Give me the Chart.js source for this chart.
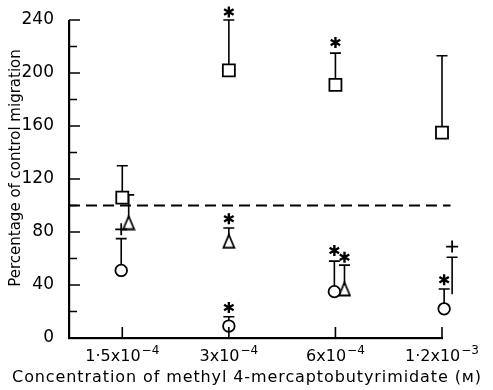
<!DOCTYPE html>
<html>
<head>
<meta charset="utf-8">
<script src="https://cdn.jsdelivr.net/npm/chart.js@4.4.0/dist/chart.umd.min.js"></script>
<style>
  html, body { margin: 0; padding: 0; background: #fff; }
  #wrap { width: 493px; height: 390px; }
</style>
</head>
<body>
<div id="wrap"><canvas id="c" width="493" height="390"></canvas></div>
<script>
// concentrations (categories), mantissa + exponent
const concBase = ['1·5x10', '3x10', '6x10', '1·2x10'];
const concExp = ['−4', '−4', '−4', '−3'];

// % of control migration, mean and top of error bar
const squareVals  = [106, 202, 191, 155];
const squareUpper = [130, 240, 215, 213];
const triVals     = [87, 73, 37, 33];
const triUpper    = [108, 83, 55, 61];
const circleVals  = [51, 9, 35, 22];
const circleUpper = [75, 16, 58, 37];

const controlLevel = 100;
const yTicks = [0, 40, 80, 120, 160, 200, 240];
const yMinor = [20, 60, 100, 140, 180, 220];

// significance marks: which series, category, height, symbol
const markSeries = ['circle', 'square', 'triangle', 'circle', 'square', 'circle', 'triangle', 'circle', 'triangle'];
const markCat    = [0, 1, 1, 1, 2, 2, 2, 3, 3];
const markY      = [82, 246, 90, 23, 223, 66, 61, 44, 69];
const markSym    = ['+', '*', '*', '*', '*', '*', '*', '*', '+'];

// small sideways shift of overlapping symbols (category units)
const dodge = {
  square:   [0, 0, 0, 0],
  circle:   [-0.01, 0, -0.01, 0.02],
  triangle: [0.06, 0, 0.085, 0.095]
};

const FONT = '"DejaVu Sans", sans-serif';

// taller-than-wide open triangle like the original
function triangleImg(){
  const c = document.createElement('canvas');
  c.width = 14; c.height = 16;
  const g = c.getContext('2d');
  g.fillStyle = '#fff';
  g.strokeStyle = '#000';
  g.lineWidth = 1.8;
  g.beginPath();
  g.moveTo(7, 1.5);
  g.lineTo(12.5, 14.5);
  g.lineTo(1.5, 14.5);
  g.closePath();
  g.fill();
  g.stroke();
  return c;
}

const pts = (vals, key) => vals.map((v, i) => ({ x: i + dodge[key][i], y: v }));

const series = [
  { key: 'square', vals: squareVals, upper: squareUpper },
  { key: 'circle', vals: circleVals, upper: circleUpper },
  { key: 'triangle', vals: triVals, upper: triUpper }
];

const decorations = {
  id: 'decorations',
  beforeDatasetsDraw(chart){
    const { ctx, scales: { x, y } } = chart;
    ctx.save();
    ctx.strokeStyle = '#000';
    // control (100%) dashed line
    ctx.lineWidth = 2;
    ctx.setLineDash([11, 6]);
    ctx.beginPath();
    ctx.moveTo(x.getPixelForValue(-0.5), y.getPixelForValue(controlLevel));
    ctx.lineTo(x.getPixelForValue(3.08), y.getPixelForValue(controlLevel));
    ctx.stroke();
    ctx.setLineDash([]);
    // upper error bars
    ctx.lineWidth = 1.6;
    series.forEach(s => {
      s.vals.forEach((v, i) => {
        const px = x.getPixelForValue(i + dodge[s.key][i]);
        const y0 = y.getPixelForValue(v);
        const y1 = y.getPixelForValue(s.upper[i]);
        ctx.beginPath();
        ctx.moveTo(px, y0);
        ctx.lineTo(px, y1);
        ctx.moveTo(px - 5.5, y1);
        ctx.lineTo(px + 5.5, y1);
        ctx.stroke();
      });
    });
    ctx.restore();
  },
  afterDraw(chart){
    const { ctx, scales: { x, y } } = chart;
    const left = x.getPixelForValue(-0.5);
    const right = x.getPixelForValue(3);
    const bottom = y.getPixelForValue(0);
    const top = y.getPixelForValue(240);
    ctx.save();
    ctx.strokeStyle = '#000';
    ctx.fillStyle = '#000';
    // axis lines
    ctx.fillRect(left - 1, top, 2.2, bottom - top + 1);
    ctx.fillRect(left - 1, bottom - 1, right - left + 2, 2.2);
    // inward ticks
    ctx.lineWidth = 1.6;
    ctx.beginPath();
    yTicks.forEach(t => {
      const py = y.getPixelForValue(t);
      ctx.moveTo(left, py); ctx.lineTo(left + 11, py);
    });
    yMinor.forEach(t => {
      const py = y.getPixelForValue(t);
      ctx.moveTo(left, py); ctx.lineTo(left + 8, py);
    });
    concBase.forEach((_, i) => {
      const px = x.getPixelForValue(i);
      ctx.moveTo(px, bottom); ctx.lineTo(px, bottom - 11);
    });
    ctx.stroke();

    // x tick labels with superscript exponents
    ctx.textBaseline = 'alphabetic';
    ctx.textAlign = 'left';
    concBase.forEach((b, i) => {
      const px = x.getPixelForValue(i);
      ctx.font = '16px ' + FONT;
      const wb = ctx.measureText(b).width;
      ctx.font = '12px ' + FONT;
      const we = ctx.measureText(concExp[i]).width;
      const sx = px - (wb + we + 1) / 2;
      ctx.font = '16px ' + FONT;
      ctx.fillText(b, sx, 361);
      ctx.font = '12px ' + FONT;
      ctx.fillText(concExp[i], sx + wb + 1, 354);
    });

    // axis titles
    ctx.textAlign = 'center';
    ctx.textBaseline = 'middle';
    ctx.font = '16px ' + FONT;
    ctx.letterSpacing = '0.9px';
    ctx.fillText('Concentration of methyl 4-mercaptobutyrimidate (ᴍ)', 247, 378);
    ctx.letterSpacing = '0px';
    ctx.font = '15px ' + FONT;
    ctx.save();
    ctx.translate(16, 168);
    ctx.rotate(-Math.PI / 2);
    ctx.fillText('Percentage of control migration', 0, 0);
    ctx.restore();

    // significance marks
    markSym.forEach((s, k) => {
      const c = markCat[k];
      const px = x.getPixelForValue(c + dodge[markSeries[k]][c]);
      const py = y.getPixelForValue(markY[k]);
      ctx.beginPath();
      if (s === '*') {
        ctx.lineWidth = 2.4;
        for (let a = 0; a < 3; a++) {
          const ang = Math.PI / 2 + a * Math.PI / 3;
          ctx.moveTo(px - Math.cos(ang) * 5.5, py - Math.sin(ang) * 5.5);
          ctx.lineTo(px + Math.cos(ang) * 5.5, py + Math.sin(ang) * 5.5);
        }
      } else {
        ctx.lineWidth = 1.8;
        ctx.moveTo(px - 6, py); ctx.lineTo(px + 6, py);
        ctx.moveTo(px, py - 6); ctx.lineTo(px, py + 6);
      }
      ctx.stroke();
    });
    ctx.restore();
  }
};

const common = { borderColor: '#000', backgroundColor: '#fff', borderWidth: 1.8, clip: false, showLine: false };

new Chart(document.getElementById('c').getContext('2d'), {
  type: 'scatter',
  data: {
    datasets: [
      { ...common, label: 'square', data: pts(squareVals, 'square'), pointStyle: 'rect', pointRadius: 8.5 },
      { ...common, label: 'circle', data: pts(circleVals, 'circle'), pointStyle: 'circle', pointRadius: 5.8 },
      { ...common, label: 'triangle', data: pts(triVals, 'triangle'), pointStyle: triangleImg() }
    ]
  },
  options: {
    responsive: false,
    animation: false,
    events: [],
    layout: { padding: { top: 20, right: 51, left: 0, bottom: 0 } },
    plugins: { legend: { display: false }, tooltip: { enabled: false } },
    scales: {
      x: {
        type: 'linear',
        min: -0.5,
        max: 3,
        grid: { display: false },
        border: { display: false },
        ticks: { display: false },
        afterFit: s => { s.height = 52; }
      },
      y: {
        min: 0,
        max: 240,
        grid: { display: false },
        border: { display: false },
        afterBuildTicks: s => { s.ticks = yTicks.map(v => ({ value: v })); },
        ticks: { color: '#000', font: { family: FONT, size: 17 }, padding: 7 },
        afterFit: s => { s.width = 69; }
      }
    }
  },
  plugins: [decorations]
});
</script>
</body>
</html>
